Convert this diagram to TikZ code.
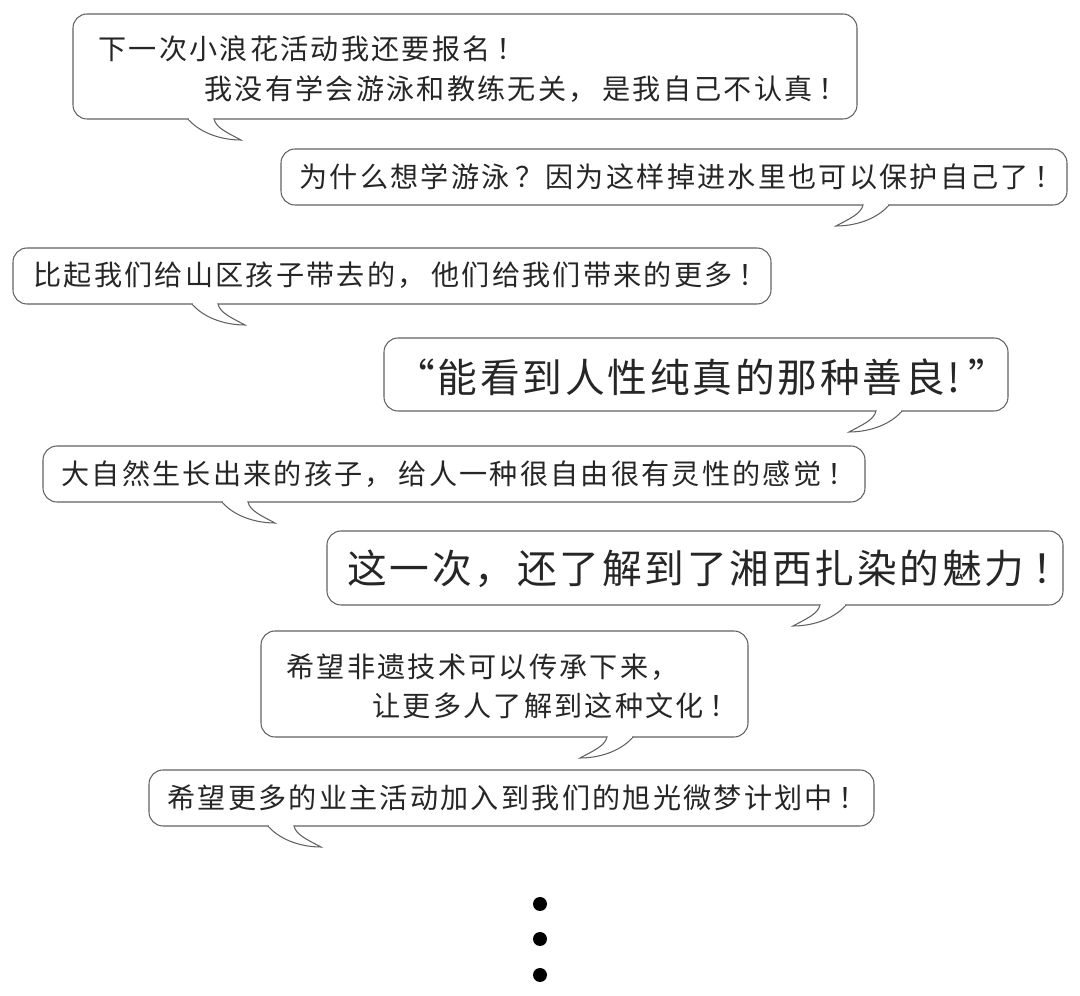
\documentclass[tikz,border=0pt]{standalone}
\usepackage{fontspec}
\setmainfont{Noto Sans CJK SC}
\newfontfamily\cjk[LetterSpace=8]{Noto Sans CJK SC}
\newfontfamily\cjkwide[LetterSpace=7]{Noto Sans CJK SC}
\newcommand{\pgap}{\hspace{0.2em}}
\newcommand{\bubble}[5]{%
    \draw[bubbleline,rounded corners=8pt] (#1,#2) rectangle (#3,#4);
    \ifnum#5<0
        \pgfmathsetmacro{\tailx}{-#5}
        \draw[bubbleline,fill=white] (\tailx,#4) .. controls (\tailx-10,#4+12) and (\tailx-30,#4+21) .. (\tailx-53,#4+21) .. controls (\tailx-40,#4+14) and (\tailx-28,#4+9) .. (\tailx-26,#4);
        \draw[white,line width=1.2pt] (\tailx-1,#4) -- (\tailx-25,#4);
    \else
        \draw[bubbleline,fill=white] (#5,#4) .. controls (#5+10,#4+12) and (#5+30,#4+21) .. (#5+53,#4+21) .. controls (#5+40,#4+14) and (#5+28,#4+9) .. (#5+26,#4);
        \draw[white,line width=1.2pt] (#5+1,#4) -- (#5+25,#4);
    \fi
}
\begin{document}
\begin{tikzpicture}[x=0.02cm,y=-0.02cm,
    bubbleline/.style={draw=black!62,line width=0.6pt},
    small/.style={inner sep=0pt,anchor=west,text=black!85,font=\fontsize{16}{19}\cjk},
    big/.style={inner sep=0pt,anchor=west,text=black!85,font=\fontsize{22.6}{26}\cjkwide}]
    \useasboundingbox (0,0) rectangle (1080,996);

    \bubble{73}{14}{857}{119}{188}
    \node[small] at (98,49) (one) {下一次小浪花活动我还要报名\pgap！};
    \node[small] at (204,89) (two) {我没有学会游泳和教练无关，\pgap 是我自己不认真\pgap！};

    \bubble{281}{149}{1067}{205}{-889}
    \node[small] at (299,177) (three) {为什么想学游泳\pgap？因为这样掉进水里也可以保护自己了\pgap！};

    \bubble{13}{248}{771}{304}{192}
    \node[small] at (33,275) (four) {比起我们给山区孩子带去的，\pgap 他们给我们带来的更多\pgap！};

    \bubble{384}{338}{1008}{411}{-902}
    \node[big] at (395,377) (five) {“能看到人性纯真的那种善良!\hspace{0.2em}”};

    \bubble{43}{446}{865}{502}{222}
    \node[small] at (61,474) (six) {大自然生长出来的孩子，\pgap 给人一种很自由很有灵性的感觉\pgap！};

    \bubble{327}{531}{1063}{605}{-846}
    \node[big] at (347,569) (seven) {这一次，还了解到了湘西扎染的魅力\pgap！};

    \bubble{261}{631}{748}{737}{-633}
    \node[small] at (286,667) (eight) {希望非遗技术可以传承下来，};
    \node[small] at (372,706) (nine) {让更多人了解到这种文化\pgap！};

    \bubble{149}{770}{874}{826}{268}
    \node[small] at (167,798) (ten) {希望更多的业主活动加入到我们的旭光微梦计划中\pgap！};

    \foreach \y in {904,939,975}
        \fill[black] (540,\y) circle (7);
\end{tikzpicture}
\end{document}
